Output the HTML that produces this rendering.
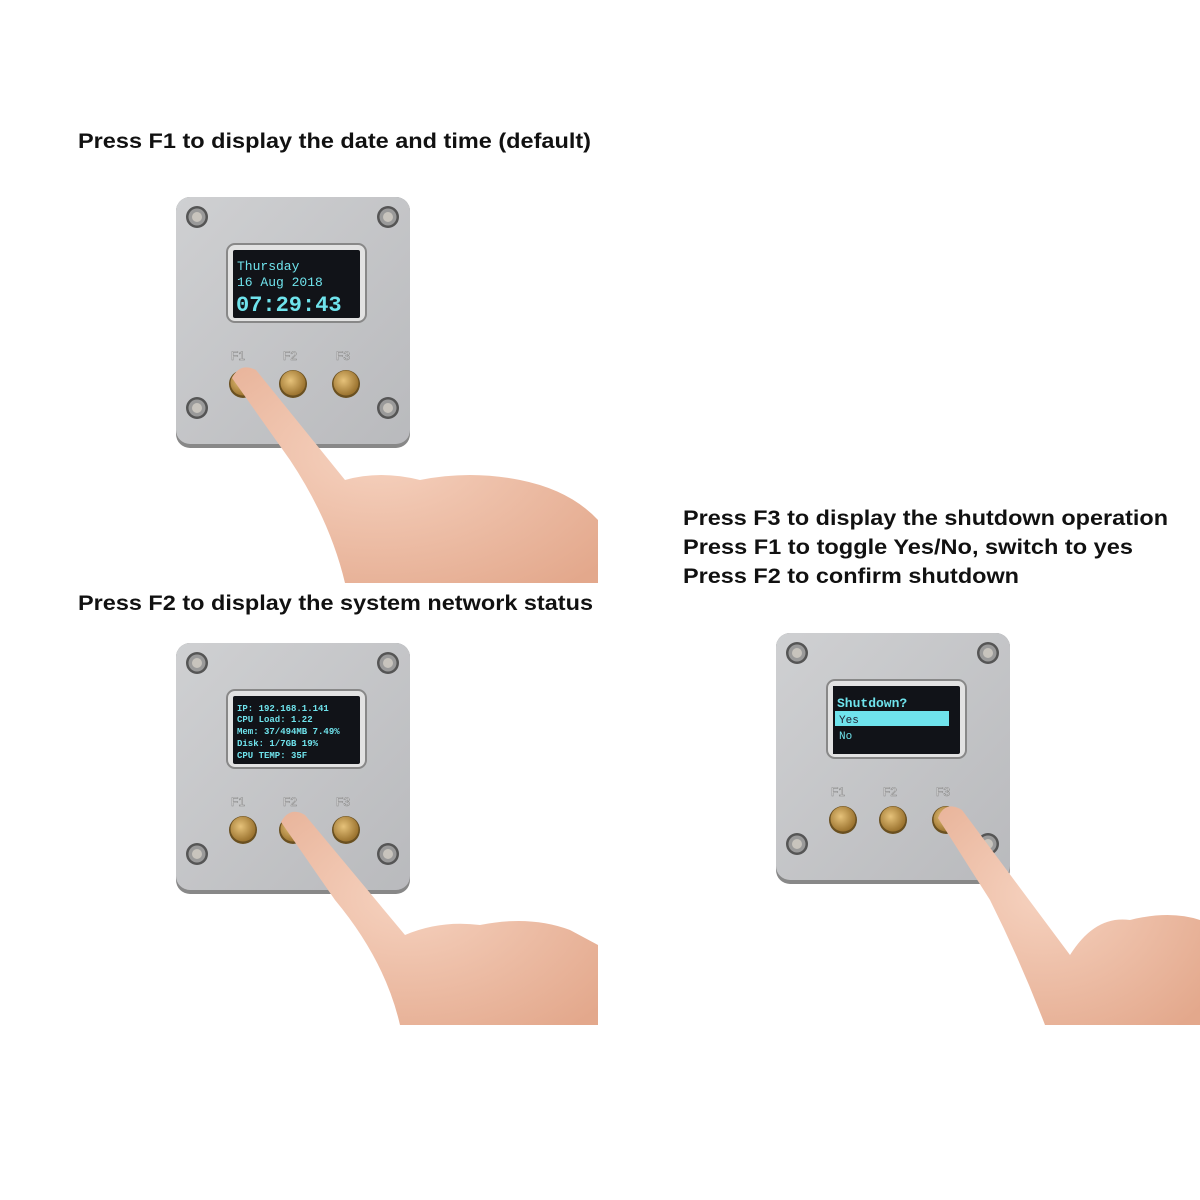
<!DOCTYPE html>
<html><head><meta charset="utf-8"><style>
body{margin:0;background:#fff;width:1200px;height:1200px;overflow:hidden}
svg{display:block}
.t{font-family:"Liberation Sans",Arial,sans-serif;font-weight:bold;font-size:21.5px;fill:#111}
.m{font-family:"Liberation Mono","DejaVu Sans Mono",monospace;fill:#6fe3ec}
.lb{font-family:"Liberation Sans",sans-serif;font-size:12px;fill:#fff;stroke:#888;stroke-width:.6}
</style></head><body>
<svg width="1200" height="1200" viewBox="0 0 1200 1200">
<defs>
<linearGradient id="al" x1="0" y1="0" x2="1" y2="1"><stop offset="0" stop-color="#cfd0d2"/><stop offset="1" stop-color="#b9babd"/></linearGradient>
<radialGradient id="br" cx=".4" cy=".4" r=".6"><stop offset="0" stop-color="#e6c27a"/><stop offset="1" stop-color="#9c7430"/></radialGradient>
<radialGradient id="sk" cx=".4" cy=".4" r=".8"><stop offset="0" stop-color="#f6d2bf"/><stop offset="1" stop-color="#e3a88c"/></radialGradient>
<g id="screw"><circle r="11" fill="#555"/><circle r="8.5" fill="#9a9a9a"/><circle r="5" fill="#c8c4bd"/></g>
<g id="dev">
<rect x="0" y="0" width="234" height="251" rx="14" fill="#888"/>
<rect x="0" y="0" width="234" height="247" rx="14" fill="url(#al)"/>
<use href="#screw" x="21" y="20"/><use href="#screw" x="212" y="20"/>
<use href="#screw" x="21" y="211"/><use href="#screw" x="212" y="211"/>
<rect x="51" y="47" width="139" height="78" rx="8" fill="#e2e2e2" stroke="#888" stroke-width="2"/>
<rect x="57" y="53" width="127" height="68" rx="2" fill="#111318"/>
<text class="lb" x="55" y="163">F1</text><text class="lb" x="107" y="163">F2</text><text class="lb" x="160" y="163">F3</text>
<circle cx="67" cy="187" r="14" fill="#6a5020"/><circle cx="67" cy="186" r="12.5" fill="url(#br)"/>
<circle cx="117" cy="187" r="14" fill="#6a5020"/><circle cx="117" cy="186" r="12.5" fill="url(#br)"/>
<circle cx="170" cy="187" r="14" fill="#6a5020"/><circle cx="170" cy="186" r="12.5" fill="url(#br)"/>
</g>
</defs>

<text class="t" x="78" y="148" textLength="513" lengthAdjust="spacingAndGlyphs">Press F1 to display the date and time (default)</text>
<text class="t" x="78" y="610" textLength="515" lengthAdjust="spacingAndGlyphs">Press F2 to display the system network status</text>
<text class="t" x="683" y="525" textLength="485" lengthAdjust="spacingAndGlyphs">Press F3 to display the shutdown operation</text>
<text class="t" x="683" y="554" textLength="450" lengthAdjust="spacingAndGlyphs">Press F1 to toggle Yes/No, switch to yes</text>
<text class="t" x="683" y="583" textLength="336" lengthAdjust="spacingAndGlyphs">Press F2 to confirm shutdown</text>

<use href="#dev" x="176" y="197"/>
<text class="m" x="237" y="270" font-size="13">Thursday</text>
<text class="m" x="237" y="286" font-size="13">16 Aug 2018</text>
<text class="m" x="236" y="311" font-size="22" font-weight="bold">07:29:43</text>
<path d="M232,378 Q240,362 256,370 L345,480 Q380,470 420,480 Q470,470 520,480 Q570,490 598,520 L598,583 L345,583 Q330,520 290,460 Z" fill="url(#sk)"/>

<use href="#dev" x="176" y="643"/>
<g class="m" font-size="9" font-weight="bold">
<text x="237" y="711">IP: 192.168.1.141</text>
<text x="237" y="722">CPU Load: 1.22</text>
<text x="237" y="734">Mem: 37/494MB 7.49%</text>
<text x="237" y="746">Disk: 1/7GB 19%</text>
<text x="237" y="758">CPU TEMP: 35F</text>
</g>
<path d="M281,822 Q290,806 305,815 L405,935 Q440,920 480,925 Q530,915 570,930 L598,945 L598,1025 L400,1025 Q385,960 335,900 Z" fill="url(#sk)"/>

<use href="#dev" x="776" y="633"/>
<rect x="833" y="686" width="117" height="68" fill="#111318"/>
<text class="m" x="837" y="707" font-size="13" font-weight="bold">Shutdown?</text>
<rect x="835" y="711" width="114" height="15" fill="#6fe3ec"/>
<text x="839" y="723" font-size="11" font-family="Liberation Mono,monospace" fill="#223">Yes</text>
<text class="m" x="839" y="739" font-size="11">No</text>
<path d="M938,818 Q945,800 962,810 L1070,955 Q1095,915 1130,920 Q1170,910 1200,920 L1200,1025 L1045,1025 Q1020,960 990,900 Z" fill="url(#sk)"/>
</svg>
</body></html>
